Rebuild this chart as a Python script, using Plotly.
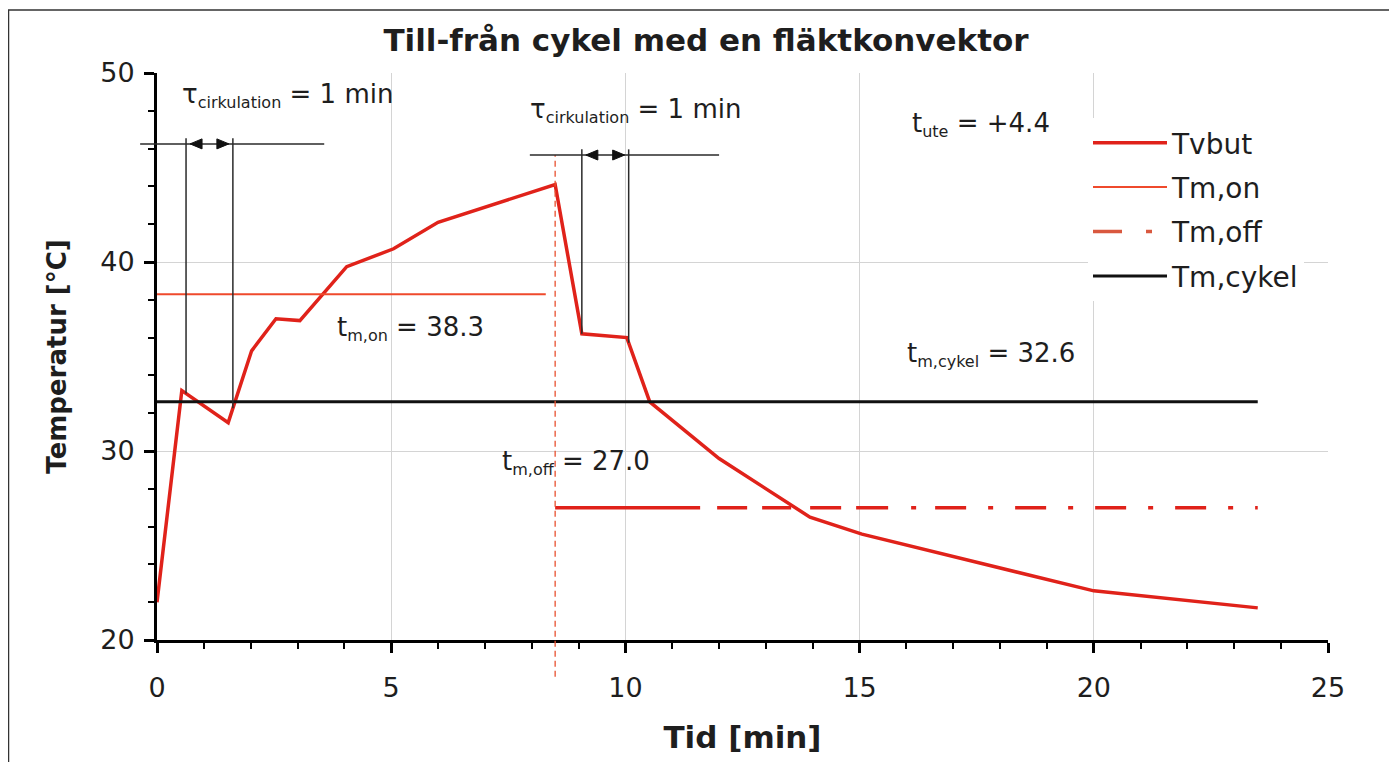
import numpy as np
import plotly.graph_objects as go

# ---------------- data ----------------
time_min = [0, 0.53, 1.52, 2.02, 2.54, 3.05, 4.05, 5.05, 6.0, 7.0, 8.5,
            9.07, 10.03, 10.52, 12.0, 13.94, 15.05, 20.0, 23.5]
t_vbut = [22.0, 33.2, 31.5, 35.3, 37.0, 36.9, 39.75, 40.7, 42.1, 42.9, 44.1,
          36.2, 36.0, 32.6, 29.6, 26.5, 25.6, 22.6, 21.7]

t_m_on = 38.3
t_m_off = 27.0
t_m_cykel = 32.6
t_ute = "+4.4"

on_period = [0, 8.3]          # Tm,on line extent
off_period = [8.5, 23.5]      # Tm,off line extent
cycle_period = [0, 23.5]      # Tm,cykel line extent
switch_off_time = 8.5

tau_starts = [0.62, 9.07]     # start of the circulation-time brackets
tau_len = 1.0                 # tau_cirkulation = 1 min
bracket_y = [46.25, 45.66]
bracket_x = [(-0.36, 3.57), (7.96, 12.0)]

x_range = [0, 25]
y_range = [20, 50]
x_ticks = [0, 5, 10, 15, 20, 25]
y_ticks = [20, 30, 40, 50]

FONT = "DejaVu Sans"
RED = "#e0221a"
RED_ON = "#ef4a2c"
TXT = "#1e1e1e"

# layout geometry (figure pixels)
ML, MT, PW, PH = 149, 65, 1171, 567
W, H = 1397, 762


def xp(x):
    return (x - x_range[0]) / (x_range[1] - x_range[0])


def yp(y):
    return (y - y_range[0]) / (y_range[1] - y_range[0])


def px2paper_x(p):
    return (p - ML) / PW


def px2paper_y(p):
    return (MT + PH - p) / PH


fig = go.Figure()

fig.add_trace(go.Scatter(x=time_min, y=t_vbut, mode="lines", name="Tvbut",
                         line=dict(color=RED, width=3.5), legendgroup="a", legendrank=1))
fig.add_trace(go.Scatter(x=on_period, y=[t_m_on] * 2, mode="lines", name="Tm,on",
                         line=dict(color=RED_ON, width=2), legendgroup="b", legendrank=2))
off_dash = "145px,17px,30px,15px,29px,19px,31px,15px,32px,23px,5px,19px," + \
           ",".join(["31px,22px,5px,22px"] * 6)
fig.add_trace(go.Scatter(x=off_period, y=[t_m_off] * 2, mode="lines", name="Tm,off",
                         line=dict(color=RED, width=3.5, dash=off_dash),
                         showlegend=False, legendgroup="c"))
# legend entry for Tm,off (dash-dot symbol)
fig.add_trace(go.Scatter(x=[None], y=[None], mode="lines", name="Tm,off",
                         line=dict(color="#d9583f", width=3.5, dash="29px,24px,6px,40px"),
                         legendgroup="c", legendrank=3))
fig.add_trace(go.Scatter(x=cycle_period, y=[t_m_cykel] * 2, mode="lines", name="Tm,cykel",
                         line=dict(color="#111111", width=3), legendgroup="d", legendrank=4))

shapes = []
annotations = []

# dashed vertical switch-off marker (extends below the axis)
shapes.append(dict(type="line", xref="x", yref="paper",
                   x0=switch_off_time, x1=switch_off_time,
                   y0=-0.065, y1=yp(bracket_y[1]),
                   line=dict(color="#e8502f", width=1.3, dash="6px,4px")))

# circulation time brackets
for i, x0 in enumerate(tau_starts):
    x1 = x0 + tau_len
    yb = bracket_y[i]
    bx0, bx1 = bracket_x[i]
    shapes.append(dict(type="line", xref="paper", yref="y", x0=xp(bx0), x1=xp(bx1),
                       y0=yb, y1=yb, line=dict(color="#2a2a2a", width=1.5)))
    for xv in (x0, x1):
        yc = float(np.interp(xv, time_min, t_vbut))
        shapes.append(dict(type="line", xref="x", yref="y", x0=xv, x1=xv,
                           y0=yc, y1=yb + 0.3, line=dict(color="#2a2a2a", width=1.5)))
    # arrowheads pointing outwards towards the two vertical lines
    shapes.append(dict(type="path", xref="x", yref="y", xsizemode="pixel", ysizemode="pixel",
                       xanchor=x0, yanchor=yb, path="M 4,0 L 16,5 L 16,-5 Z",
                       fillcolor="#111", line=dict(color="#111", width=1)))
    shapes.append(dict(type="path", xref="x", yref="y", xsizemode="pixel", ysizemode="pixel",
                       xanchor=x1, yanchor=yb, path="M -4,0 L -16,5 L -16,-5 Z",
                       fillcolor="#111", line=dict(color="#111", width=1)))

# text labels
txt_font = dict(family=FONT, size=26, color=TXT)


def sub(s):
    return f"<sub><span style='font-size:16px'>{s}</span></sub>"


labels = [
    (0.49, 48.8, f"τ{sub('cirkulation')} = {tau_len:g} min"),
    (7.92, 48.0, f"τ{sub('cirkulation')} = {tau_len:g} min"),
    (16.08, 47.25, f"t{sub('ute')} = {t_ute}"),
    (3.8, 36.5, f"t{sub('m,on')} = {t_m_on:.1f}"),
    (15.97, 35.08, f"t{sub('m,cykel')} = {t_m_cykel:.1f}"),
    (7.32, 29.37, f"t{sub('m,off')} = {t_m_off:.1f}"),
]
for x, y, t in labels:
    annotations.append(dict(x=x, y=y, xref="x", yref="y", text=t, showarrow=False,
                            xanchor="left", yanchor="middle", font=txt_font))

# outer frame of the figure
shapes.append(dict(type="rect", xref="paper", yref="paper",
                   x0=px2paper_x(0.5), x1=px2paper_x(1405),
                   y0=px2paper_y(775), y1=px2paper_y(2),
                   line=dict(color="#333", width=1.5), layer="below"))

axis_common = dict(showline=True, linecolor="black", linewidth=3,
                   ticks="outside", ticklen=10, tickwidth=2.5, tickcolor="black",
                   showgrid=True, gridcolor="#d4d4d4", gridwidth=1, zeroline=False,
                   tickfont=dict(family=FONT, size=27, color=TXT))

fig.update_xaxes(range=x_range, tickvals=x_ticks, ticklabelstandoff=12,
                 minor=dict(dtick=1, ticklen=6, tickwidth=2, tickcolor="black", showgrid=False),
                 title=dict(text="<b>Tid [min]</b>", standoff=24,
                            font=dict(family=FONT, size=31, color=TXT)),
                 **axis_common)
fig.update_yaxes(range=y_range, tickvals=y_ticks, ticklabelstandoff=4,
                 minor=dict(dtick=2, ticklen=6, tickwidth=2, tickcolor="black", showgrid=False),
                 title=dict(text="<b>Temperatur [°C]</b>", standoff=27,
                            font=dict(family=FONT, size=26, color=TXT)),
                 **axis_common)

fig.update_layout(
    width=W, height=H,
    margin=dict(l=ML, r=W - ML - PW, t=MT, b=H - MT - PH),
    paper_bgcolor="white", plot_bgcolor="white",
    title=dict(text="<b>Till-från cykel med en fläktkonvektor</b>",
               x=698 / W, xref="container", xanchor="center",
               y=1 - 32 / H, yref="container", yanchor="middle",
               font=dict(family=FONT, size=31, color=TXT)),
    legend=dict(x=px2paper_x(1080), xanchor="left",
                y=px2paper_y(110), yanchor="top",
                bgcolor="white", borderwidth=0, tracegroupgap=5, itemwidth=74,
                font=dict(family=FONT, size=28, color=TXT)),
    shapes=shapes, annotations=annotations,
    showlegend=True,
)

fig.write_html("out.html")
